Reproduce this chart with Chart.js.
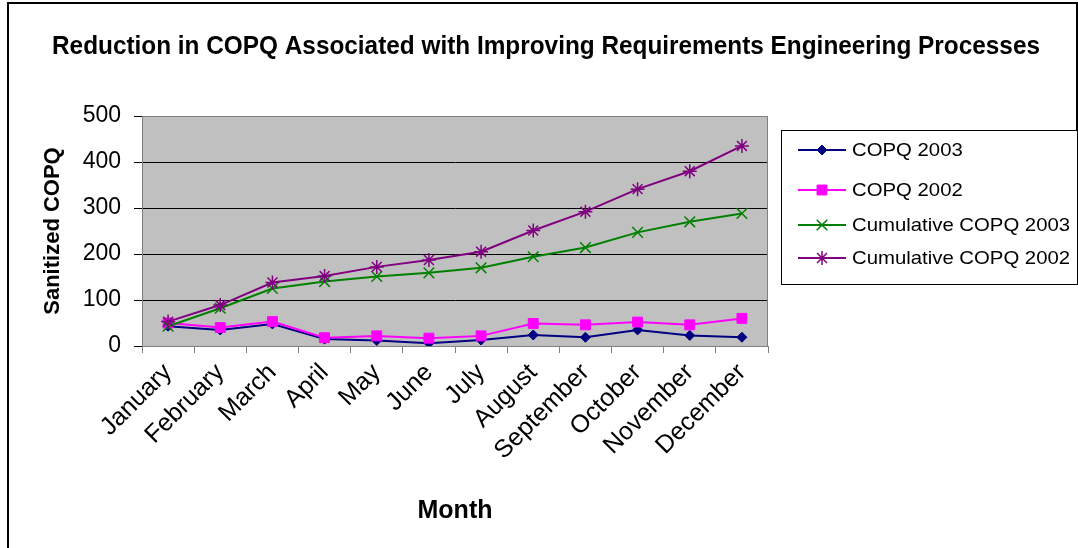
<!DOCTYPE html>
<html>
<head>
<meta charset="utf-8">
<title>Reduction in COPQ</title>
<script src="https://cdn.jsdelivr.net/npm/chart.js@4/dist/chart.umd.min.js"></script>
<style>
    body { margin: 0; background: #fff; }
    #wrap { width: 1078px; height: 548px; position: relative; }
</style>
</head>
<body>
<div id="wrap"><canvas id="copqChart" width="1078" height="548"></canvas></div>
<script>
const months = ['January', 'February', 'March', 'April', 'May', 'June', 'July',
    'August', 'September', 'October', 'November', 'December'];

const copq2003 = [43, 35, 48, 15, 12, 6, 13, 24, 19, 35, 23, 19];
const copq2002 = [50, 40, 53, 18, 22, 17, 22, 49, 46, 52, 46, 60];
const cumulative2003 = [43, 82, 125, 140, 151, 159, 170, 194, 214, 247, 270, 288];
const cumulative2002 = [53, 89, 138, 152, 172, 187, 205, 251, 292, 341, 380, 435];

const yTicks = [0, 100, 200, 300, 400, 500];

const chartTitle = 'Reduction in COPQ Associated with Improving Requirements Engineering Processes';
const seriesNames = ['COPQ 2003', 'COPQ 2002', 'Cumulative COPQ 2003', 'Cumulative COPQ 2002'];
const seriesColors = ['#000080', '#FF00FF', '#008000', '#800080'];
const seriesMarkers = ['rectRot', 'rect', 'crossRot', 'star'];
const markerSizes = [5, 7, 7.5, 7];

const fontFamily = '"Liberation Sans", Arial, sans-serif';
Chart.defaults.font.family = fontFamily;
Chart.defaults.color = '#000';

function makeSet(i, data) {
    return {
        label: seriesNames[i],
        data: data,
        borderColor: seriesColors[i],
        backgroundColor: seriesColors[i],
        borderWidth: 2,
        pointStyle: seriesMarkers[i],
        pointRadius: markerSizes[i],
        pointHoverRadius: markerSizes[i],
        pointBorderWidth: i < 2 ? 1 : 1.5,
        pointBackgroundColor: seriesColors[i],
        pointBorderColor: seriesColors[i],
        tension: 0,
        order: 4 - i
    };
}

// text squeezed or widened to a given width (the source picture is a bit stretched)
function fitText(ctx, text, x, y, width) {
    const w = ctx.measureText(text).width;
    ctx.save();
    ctx.translate(x, y);
    ctx.scale(width / w, 1);
    ctx.fillText(text, 0, 0);
    ctx.restore();
}

// grey plot background, frame and title
const frame = {
    id: 'frame',
    beforeDraw(chart) {
        const { ctx, chartArea: a } = chart;
        ctx.save();
        ctx.fillStyle = '#fff';
        ctx.fillRect(0, 0, chart.width, chart.height);
        ctx.fillStyle = '#C0C0C0';
        ctx.fillRect(a.left, a.top, a.right - a.left, a.bottom - a.top);
        ctx.restore();
    },
    afterDraw(chart) {
        const { ctx, chartArea: a } = chart;
        ctx.save();
        ctx.strokeStyle = '#808080';
        ctx.lineWidth = 1;
        ctx.beginPath();
        ctx.moveTo(a.left + 0.5, a.top + 0.5);
        ctx.lineTo(a.right - 0.5, a.top + 0.5);
        ctx.lineTo(a.right - 0.5, a.bottom);
        ctx.stroke();

        ctx.strokeStyle = '#000';
        ctx.lineWidth = 2;
        ctx.beginPath();
        ctx.moveTo(8, 548);
        ctx.lineTo(8, 3);
        ctx.lineTo(1078, 3);
        ctx.moveTo(1077, 3);
        ctx.lineTo(1077, 130);
        ctx.stroke();

        ctx.fillStyle = '#000';
        ctx.font = 'bold 25px ' + fontFamily;
        ctx.textBaseline = 'alphabetic';
        ctx.textAlign = 'left';
        fitText(ctx, chartTitle, 52, 54, 988);
        ctx.restore();
    }
};

// Excel style legend box on the right
const sideLegend = {
    id: 'sideLegend',
    afterDraw(chart) {
        const ctx = chart.ctx;
        const rowsY = [150, 190, 225, 258];
        ctx.save();
        ctx.strokeStyle = '#000';
        ctx.lineWidth = 1;
        ctx.strokeRect(781.5, 130.5, 296, 154);
        ctx.font = '19px ' + fontFamily;
        ctx.textBaseline = 'middle';
        ctx.textAlign = 'left';
        seriesNames.forEach((name, i) => {
            const y = rowsY[i];
            ctx.strokeStyle = seriesColors[i];
            ctx.fillStyle = seriesColors[i];
            ctx.lineWidth = 2;
            ctx.beginPath();
            ctx.moveTo(798, y);
            ctx.lineTo(846, y);
            ctx.stroke();
            ctx.lineWidth = i < 2 ? 1 : 1.5;
            Chart.helpers.drawPoint(ctx, {
                pointStyle: seriesMarkers[i],
                radius: markerSizes[i],
                rotation: 0,
                borderWidth: ctx.lineWidth
            }, 822, y);
            ctx.fillStyle = '#000';
            const w = ctx.measureText(name).width * 1.07;
            fitText(ctx, name, 852, y + 1, w);
        });
        ctx.restore();
    }
};

const ctx = document.getElementById('copqChart').getContext('2d');
new Chart(ctx, {
    type: 'line',
    data: {
        labels: months,
        datasets: [
            makeSet(0, copq2003),
            makeSet(1, copq2002),
            makeSet(2, cumulative2003),
            makeSet(3, cumulative2002)
        ]
    },
    options: {
        responsive: false,
        animation: false,
        layout: {
            padding: { left: 10, right: 310, top: 116, bottom: 0 }
        },
        plugins: {
            legend: { display: false },
            tooltip: { enabled: false },
            title: { display: false }
        },
        scales: {
            x: {
                offset: true,
                grid: {
                    display: true,
                    drawOnChartArea: false,
                    drawTicks: true,
                    tickLength: 7,
                    color: '#808080',
                    offset: true
                },
                border: { display: true, color: '#808080' },
                ticks: {
                    autoSkip: false,
                    maxRotation: 45,
                    minRotation: 45,
                    padding: 5,
                    color: '#000',
                    font: { size: 25 }
                },
                title: {
                    display: true,
                    text: 'Month',
                    color: '#000',
                    font: { size: 25, weight: 'bold' },
                    padding: { top: 4, bottom: 22 }
                },
                afterFit: scale => { scale.height = 202; }
            },
            y: {
                min: 0,
                max: 500,
                afterBuildTicks: scale => {
                    scale.ticks = yTicks.map(v => ({ value: v }));
                },
                grid: {
                    color: c => (c.tick && (c.tick.value === 0 || c.tick.value === 500)) ? '#808080' : '#000',
                    tickColor: '#000',
                    tickLength: 8,
                    lineWidth: 1
                },
                border: { display: true, color: '#808080' },
                ticks: {
                    padding: 13,
                    color: '#000',
                    font: { size: 23 }
                },
                title: {
                    display: true,
                    text: 'Sanitized COPQ',
                    color: '#000',
                    font: { size: 22, weight: 'bold' },
                    padding: { top: 30, bottom: 0 }
                },
                afterFit: scale => { scale.width = 132; }
            }
        }
    },
    plugins: [frame, sideLegend]
});
</script>
</body>
</html>
